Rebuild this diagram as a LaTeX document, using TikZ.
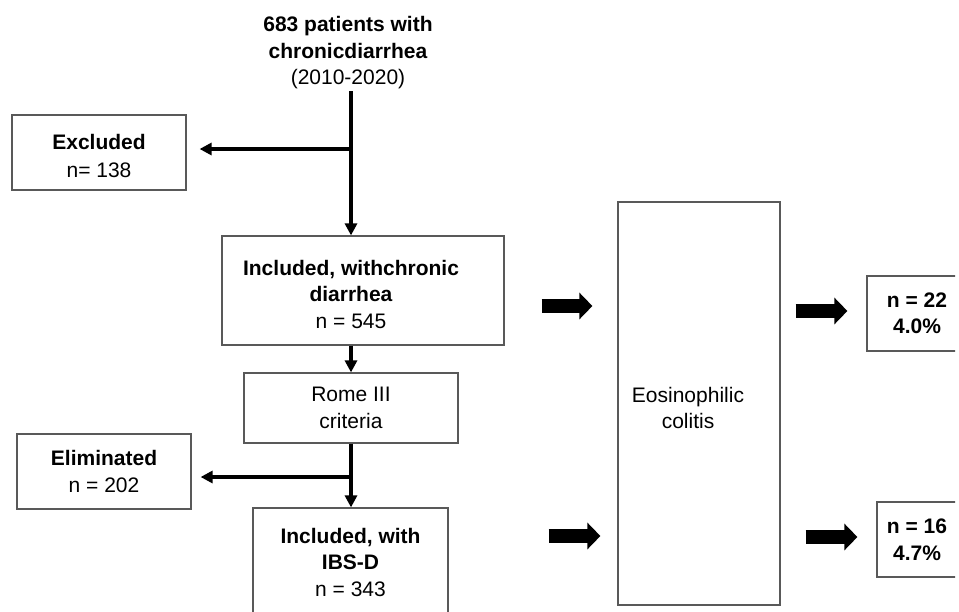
\documentclass[tikz,border=0pt]{standalone}
\usepackage{fontspec}
\setmainfont{Liberation Sans}
\usetikzlibrary{arrows.meta,positioning,calc}
\tikzset{
	flow/.style={line width=3.5pt, -{Triangle[length=12pt,width=12pt]}},
	fat arrow/.style={line width=14pt, -{Triangle[length=13pt,width=26pt]}}, % block arrow
}

\begin{document}
\begin{tikzpicture}[x=1pt, y=-1pt, font=\fontsize{21}{26.5}\selectfont]
	\tikzstyle{box} = [rectangle, draw=black!65, line width=1.2pt, align=center, inner sep=0pt]
	\tikzstyle{plain} = [align=center, inner sep=2pt]
	\useasboundingbox (0, 0) rectangle (959, 611);
	\clip (0, 0) rectangle (955, 611);
	\node (patients)[plain] at (348, 53) {\textbf{683 patients with}\\ \textbf{chronicdiarrhea}\\ (2010-2020)};
	\node (excluded)[box, minimum width=174, minimum height=75,
		label={[align=center, yshift=-3.5pt]center:{\textbf{Excluded}\\[1.5pt] n= 138}}] at (99, 152.5) {};
	\node (included)[box, minimum width=282, minimum height=109,
		label={[align=center, xshift=-12pt, yshift=-3.5pt]center:{\textbf{Included, withchronic}\\ \textbf{diarrhea}\\ n = 545}}] at (363, 290.5) {};
	\node (rome)[box, minimum width=214, minimum height=70] at (351, 408) {Rome III\\ criteria};
	\node (eliminated)[box, minimum width=174, minimum height=75] at (104, 471.5) {\textbf{Eliminated}\\ n = 202};
	\node (ibsd)[box, minimum width=195, minimum height=108] at (350.5, 562) {\textbf{Included, with}\\ \textbf{IBS-D}\\ n = 343};
	\node (colitis)[box, minimum width=162, minimum height=403,
		label={[align=center, xshift=-11pt, yshift=-4.5pt]center:{Eosinophilic\\ colitis}}] at (699, 403.5) {};
	\node (first)[box, minimum width=100, minimum height=75] at (917, 313.5) {\textbf{n = 22}\\ \textbf{4.0\%}};
	\node (second)[box, minimum width=80, minimum height=75] at (917, 539.5) {\textbf{n = 16}\\ \textbf{4.7\%}};
	% flow of patients
	\draw [flow] (patients.south -| rome) -- (included.north -| rome);
	\draw [flow, shorten >=13pt] ([yshift=3.5pt]excluded.east -| rome) -- ([yshift=3.5pt]excluded.east);
	\draw [flow] (included.south -| rome) -- (rome.north);
	\draw [flow] (rome.south) -- (ibsd.north -| rome);
	\draw [flow, shorten >=9pt] ([yshift=-5.5pt]eliminated.east -| rome) -- ([yshift=-5.5pt]eliminated.east);
	% block arrows
	\draw [fat arrow, shorten <=37pt, shorten >=25pt] (included.east |- 0,306) -- (colitis.west |- 0,306);
	\draw [fat arrow, shorten <=100pt, shorten >=17pt] (ibsd.east |- 0,536) -- (colitis.west |- 0,536);
	\draw [fat arrow, shorten <=15pt, shorten >=19pt] (colitis.east |- 0,311) -- (first.west |- 0,311);
	\draw [fat arrow, shorten <=25pt, shorten >=19pt] (colitis.east |- 0,537) -- (second.west |- 0,537);
\end{tikzpicture}
\end{document}
